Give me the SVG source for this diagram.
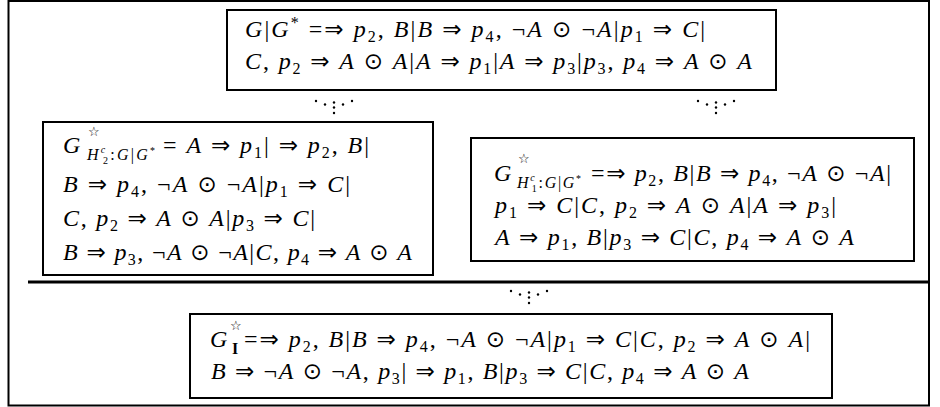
<svg xmlns="http://www.w3.org/2000/svg" xmlns:xlink="http://www.w3.org/1999/xlink" width="940" height="407" viewBox="0 0 940 407">
<style>
.t{font-family:"Liberation Serif","DejaVu Serif",serif;font-size:24px;fill:#000}
.i{font-style:italic}
.r{font-family:"DejaVu Sans",sans-serif;font-size:23px}
.sb{font-size:16px;baseline-shift:-5px}
.sp{font-size:16px;baseline-shift:9px}
.box{fill:#fff;stroke:#000;stroke-width:2}
.star{font-family:"DejaVu Sans",sans-serif;font-size:13px}
.ss{font-family:"Liberation Serif",serif;font-size:16px}
.sss{font-family:"Liberation Serif",serif;font-size:10px}
</style>
<defs>
<g id="dots" fill="#000">
<circle cx="-18" cy="0" r="1.2"/><circle cx="-9" cy="3.5" r="1.2"/>
<circle cx="0" cy="1.5" r="1.2"/><circle cx="0" cy="6.5" r="1.2"/>
<circle cx="9" cy="3.5" r="1.2"/><circle cx="18" cy="0" r="1.2"/>
<circle cx="0" cy="12" r="1.2"/>
</g>
</defs>
<rect x="8.5" y="1" width="920.5" height="404.5" fill="#fff" stroke="#000" stroke-width="2"/>
<line x1="28" y1="282" x2="929" y2="282" stroke="#000" stroke-width="3"/>

<g id="connectors">
<use xlink:href="#dots" x="334" y="101"/>
<use xlink:href="#dots" x="716" y="101"/>
<use xlink:href="#dots" x="529" y="291"/>
</g>

<g id="node-top">
<rect class="box" x="227" y="10" width="549" height="80"/>
<text class="t" x="245" y="37" textLength="460" lengthAdjust="spacing"><tspan class="i">G</tspan>|<tspan class="i">G</tspan><tspan class="sp">*</tspan> =<tspan class="r">⇒</tspan> <tspan class="i">p</tspan><tspan class="sb">2</tspan>, <tspan class="i">B</tspan>|<tspan class="i">B</tspan> <tspan class="r">⇒</tspan> <tspan class="i">p</tspan><tspan class="sb">4</tspan>, ¬<tspan class="i">A</tspan> <tspan class="r">⊙</tspan> ¬<tspan class="i">A</tspan>|<tspan class="i">p</tspan><tspan class="sb">1</tspan> <tspan class="r">⇒</tspan> <tspan class="i">C</tspan>|</text>
<text class="t" x="245" y="69" textLength="507" lengthAdjust="spacing"><tspan class="i">C</tspan>, <tspan class="i">p</tspan><tspan class="sb">2</tspan> <tspan class="r">⇒</tspan> <tspan class="i">A</tspan> <tspan class="r">⊙</tspan> <tspan class="i">A</tspan>|<tspan class="i">A</tspan> <tspan class="r">⇒</tspan> <tspan class="i">p</tspan><tspan class="sb">1</tspan>|<tspan class="i">A</tspan> <tspan class="r">⇒</tspan> <tspan class="i">p</tspan><tspan class="sb">3</tspan>|<tspan class="i">p</tspan><tspan class="sb">3</tspan>, <tspan class="i">p</tspan><tspan class="sb">4</tspan> <tspan class="r">⇒</tspan> <tspan class="i">A</tspan> <tspan class="r">⊙</tspan> <tspan class="i">A</tspan></text>
</g>

<g id="node-left">
<rect class="box" x="43" y="122" width="390" height="153"/>
<text class="t i" x="63" y="153">G</text>
<text class="star" x="88" y="136">☆</text>
<text class="ss" x="87" y="160" textLength="68" lengthAdjust="spacing"><tspan class="i">H</tspan><tspan class="sss i" dy="-7">c</tspan><tspan class="sss" dx="-4.5" dy="11">2</tspan><tspan dy="-4">:</tspan><tspan class="i">G</tspan>|<tspan class="i">G</tspan><tspan class="sss" dy="-6">*</tspan></text>
<text class="t" x="163" y="153" textLength="206" lengthAdjust="spacing">= <tspan class="i">A</tspan> <tspan class="r">⇒</tspan> <tspan class="i">p</tspan><tspan class="sb">1</tspan>| <tspan class="r">⇒</tspan> <tspan class="i">p</tspan><tspan class="sb">2</tspan>, <tspan class="i">B</tspan>|</text>
<text class="t" x="63" y="192" textLength="287" lengthAdjust="spacing"><tspan class="i">B</tspan> <tspan class="r">⇒</tspan> <tspan class="i">p</tspan><tspan class="sb">4</tspan>, ¬<tspan class="i">A</tspan> <tspan class="r">⊙</tspan> ¬<tspan class="i">A</tspan>|<tspan class="i">p</tspan><tspan class="sb">1</tspan> <tspan class="r">⇒</tspan> <tspan class="i">C</tspan>|</text>
<text class="t" x="63" y="226" textLength="252" lengthAdjust="spacing"><tspan class="i">C</tspan>, <tspan class="i">p</tspan><tspan class="sb">2</tspan> <tspan class="r">⇒</tspan> <tspan class="i">A</tspan> <tspan class="r">⊙</tspan> <tspan class="i">A</tspan>|<tspan class="i">p</tspan><tspan class="sb">3</tspan> <tspan class="r">⇒</tspan> <tspan class="i">C</tspan>|</text>
<text class="t" x="63" y="260" textLength="349" lengthAdjust="spacing"><tspan class="i">B</tspan> <tspan class="r">⇒</tspan> <tspan class="i">p</tspan><tspan class="sb">3</tspan>, ¬<tspan class="i">A</tspan> <tspan class="r">⊙</tspan> ¬<tspan class="i">A</tspan>|<tspan class="i">C</tspan>, <tspan class="i">p</tspan><tspan class="sb">4</tspan> <tspan class="r">⇒</tspan> <tspan class="i">A</tspan> <tspan class="r">⊙</tspan> <tspan class="i">A</tspan></text>
</g>

<g id="node-right">
<rect class="box" x="471" y="138" width="443" height="123"/>
<text class="t i" x="494" y="181">G</text>
<text class="star" x="518" y="163">☆</text>
<text class="ss" x="517" y="188" textLength="64" lengthAdjust="spacing"><tspan class="i">H</tspan><tspan class="sss i" dy="-7">c</tspan><tspan class="sss" dx="-4.5" dy="11">1</tspan><tspan dy="-4">:</tspan><tspan class="i">G</tspan>|<tspan class="i">G</tspan><tspan class="sss" dy="-6">*</tspan></text>
<text class="t" x="591" y="181" textLength="300" lengthAdjust="spacing">=<tspan class="r">⇒</tspan> <tspan class="i">p</tspan><tspan class="sb">2</tspan>, <tspan class="i">B</tspan>|<tspan class="i">B</tspan> <tspan class="r">⇒</tspan> <tspan class="i">p</tspan><tspan class="sb">4</tspan>, ¬<tspan class="i">A</tspan> <tspan class="r">⊙</tspan> ¬<tspan class="i">A</tspan>|</text>
<text class="t" x="495" y="213" textLength="341" lengthAdjust="spacing"><tspan class="i">p</tspan><tspan class="sb">1</tspan> <tspan class="r">⇒</tspan> <tspan class="i">C</tspan>|<tspan class="i">C</tspan>, <tspan class="i">p</tspan><tspan class="sb">2</tspan> <tspan class="r">⇒</tspan> <tspan class="i">A</tspan> <tspan class="r">⊙</tspan> <tspan class="i">A</tspan>|<tspan class="i">A</tspan> <tspan class="r">⇒</tspan> <tspan class="i">p</tspan><tspan class="sb">3</tspan>|</text>
<text class="t" x="495" y="245" textLength="359" lengthAdjust="spacing"><tspan class="i">A</tspan> <tspan class="r">⇒</tspan> <tspan class="i">p</tspan><tspan class="sb">1</tspan>, <tspan class="i">B</tspan>|<tspan class="i">p</tspan><tspan class="sb">3</tspan> <tspan class="r">⇒</tspan> <tspan class="i">C</tspan>|<tspan class="i">C</tspan>, <tspan class="i">p</tspan><tspan class="sb">4</tspan> <tspan class="r">⇒</tspan> <tspan class="i">A</tspan> <tspan class="r">⊙</tspan> <tspan class="i">A</tspan></text>
</g>

<g id="node-bottom">
<rect class="box" x="190" y="314" width="642" height="84"/>
<text class="t i" x="210" y="347">G</text>
<text class="star" x="230" y="330">☆</text>
<text class="ss" x="232" y="354" font-weight="bold">I</text>
<text class="t" x="244" y="347" textLength="566" lengthAdjust="spacing">=<tspan class="r">⇒</tspan> <tspan class="i">p</tspan><tspan class="sb">2</tspan>, <tspan class="i">B</tspan>|<tspan class="i">B</tspan> <tspan class="r">⇒</tspan> <tspan class="i">p</tspan><tspan class="sb">4</tspan>, ¬<tspan class="i">A</tspan> <tspan class="r">⊙</tspan> ¬<tspan class="i">A</tspan>|<tspan class="i">p</tspan><tspan class="sb">1</tspan> <tspan class="r">⇒</tspan> <tspan class="i">C</tspan>|<tspan class="i">C</tspan>, <tspan class="i">p</tspan><tspan class="sb">2</tspan> <tspan class="r">⇒</tspan> <tspan class="i">A</tspan> <tspan class="r">⊙</tspan> <tspan class="i">A</tspan>|</text>
<text class="t" x="211" y="379" textLength="538" lengthAdjust="spacing"><tspan class="i">B</tspan> <tspan class="r">⇒</tspan> ¬<tspan class="i">A</tspan> <tspan class="r">⊙</tspan> ¬<tspan class="i">A</tspan>, <tspan class="i">p</tspan><tspan class="sb">3</tspan>| <tspan class="r">⇒</tspan> <tspan class="i">p</tspan><tspan class="sb">1</tspan>, <tspan class="i">B</tspan>|<tspan class="i">p</tspan><tspan class="sb">3</tspan> <tspan class="r">⇒</tspan> <tspan class="i">C</tspan>|<tspan class="i">C</tspan>, <tspan class="i">p</tspan><tspan class="sb">4</tspan> <tspan class="r">⇒</tspan> <tspan class="i">A</tspan> <tspan class="r">⊙</tspan> <tspan class="i">A</tspan></text>
</g>
</svg>
